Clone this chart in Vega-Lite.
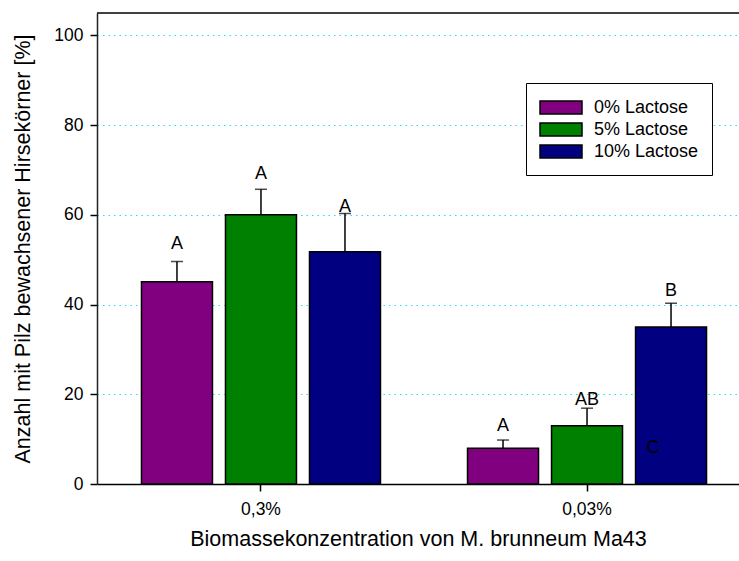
{
  "$schema": "https://vega.github.io/schema/vega-lite/v6.json",
  "autosize": "none",
  "width": 642,
  "height": 471,
  "padding": {"left": 97, "top": 13, "right": 0, "bottom": 77},
  "background": "white",
  "config": {
    "font": "Liberation Sans",
    "view": {"stroke": null},
    "axis": {"labelFont": "Liberation Sans", "titleFont": "Liberation Sans", "labelColor": "#000", "titleColor": "#000", "titleFontWeight": "normal"}
  },
  "datasets": {
    "bars": [
      {"group": "0,3%", "lactose": "0% Lactose", "value": 45.1, "upper": 49.6, "letter": "A", "label_at": 52.5},
      {"group": "0,3%", "lactose": "5% Lactose", "value": 60.0, "upper": 65.7, "letter": "A", "label_at": 68.1},
      {"group": "0,3%", "lactose": "10% Lactose", "value": 51.8, "upper": 60.3, "letter": "A", "label_at": 60.6},
      {"group": "0,03%", "lactose": "0% Lactose", "value": 7.95, "upper": 9.8, "letter": "A", "label_at": 11.9},
      {"group": "0,03%", "lactose": "5% Lactose", "value": 13.0, "upper": 16.9, "letter": "AB", "label_at": 17.6},
      {"group": "0,03%", "lactose": "10% Lactose", "value": 35.0, "upper": 40.3, "letter": "B", "label_at": 41.8}
    ],
    "notes": [
      {"group": "0,03%", "lactose": "10% Lactose", "letter": "C", "label_at": 6.8}
    ]
  },
  "layer": [
    {
      "encoding": {
        "x": {
          "field": "group", "type": "nominal", "sort": ["0,3%", "0,03%"],
          "scale": {"paddingInner": 0.267, "paddingOuter": 0.118, "align": 0.578, "round": false},
          "axis": {
            "title": "Biomassekonzentration von M. brunneum Ma43",
            "titleFontSize": 21.5, "titlePadding": 11,
            "labelFontSize": 17.5, "labelPadding": 9, "labelAngle": 0,
            "tickSize": 7, "tickColor": "#000", "tickWidth": 1.5,
            "domainColor": "#000", "domainWidth": 1.5, "grid": false
          }
        },
        "xOffset": {
          "field": "lactose", "type": "nominal", "sort": ["0% Lactose", "5% Lactose", "10% Lactose"],
          "scale": {"paddingInner": 0.155, "paddingOuter": 0}
        }
      },
      "layer": [
        {
          "data": {"name": "bars"},
          "mark": {"type": "rule", "color": "#000", "strokeWidth": 1.5},
          "encoding": {
            "y": {"field": "value", "type": "quantitative"},
            "y2": {"field": "upper"}
          }
        },
        {
          "data": {"name": "bars"},
          "mark": {"type": "tick", "orient": "horizontal", "size": 12, "thickness": 1.5, "color": "#000"},
          "encoding": {
            "y": {"field": "upper", "type": "quantitative"}
          }
        },
        {
          "data": {"name": "bars"},
          "mark": {"type": "bar", "stroke": "#000", "strokeWidth": 1.5},
          "encoding": {
            "y": {
              "field": "value", "type": "quantitative",
              "scale": {"domain": [0, 105], "nice": false},
              "axis": {
                "title": "Anzahl mit Pilz bewachsener Hirsekörner [%]",
                "titleFontSize": 21.5, "titlePadding": 19,
                "values": [0, 20, 40, 60, 80, 100],
                "labelFontSize": 17.5, "labelPadding": 7,
                "tickSize": 7, "tickColor": "#000", "tickWidth": 1.5,
                "domainColor": "#222", "domainWidth": 1.5,
                "grid": true, "gridColor": "#22e0ee", "gridDash": [1.5, 4], "gridWidth": 1.2
              }
            },
            "color": {
              "field": "lactose", "type": "nominal",
              "sort": ["0% Lactose", "5% Lactose", "10% Lactose"],
              "scale": {"domain": ["0% Lactose", "5% Lactose", "10% Lactose"], "range": ["#800080", "#008000", "#000080"]},
              "legend": {
                "title": null,
                "orient": "none", "legendX": 429, "legendY": 70,
                "symbolType": "M-1,-0.62H3V0.62H-1Z", "symbolSize": 441,
                "symbolStrokeColor": "#000", "symbolStrokeWidth": 1.5, "symbolOpacity": 1,
                "labelFontSize": 18, "labelFont": "Liberation Sans", "labelColor": "#000", "labelOffset": 32,
                "rowPadding": -1.5, "padding": 13,
                "strokeColor": "#000", "fillColor": "white"
              }
            }
          }
        },
        {
          "data": {"name": "bars"},
          "mark": {"type": "text", "baseline": "alphabetic", "fontSize": 18, "font": "Liberation Sans", "color": "#000"},
          "encoding": {
            "y": {"field": "label_at", "type": "quantitative"},
            "text": {"field": "letter"}
          }
        },
        {
          "data": {"name": "notes"},
          "mark": {"type": "text", "baseline": "alphabetic", "fontSize": 18, "font": "Liberation Sans", "color": "#000", "dx": -18},
          "encoding": {
            "y": {"field": "label_at", "type": "quantitative"},
            "text": {"field": "letter"}
          }
        }
      ]
    },
    {
      "data": {"values": [{"top": 105}]},
      "mark": {"type": "rule", "color": "#000", "strokeWidth": 1.5},
      "encoding": {
        "y": {"field": "top", "type": "quantitative"}
      }
    }
  ]
}
